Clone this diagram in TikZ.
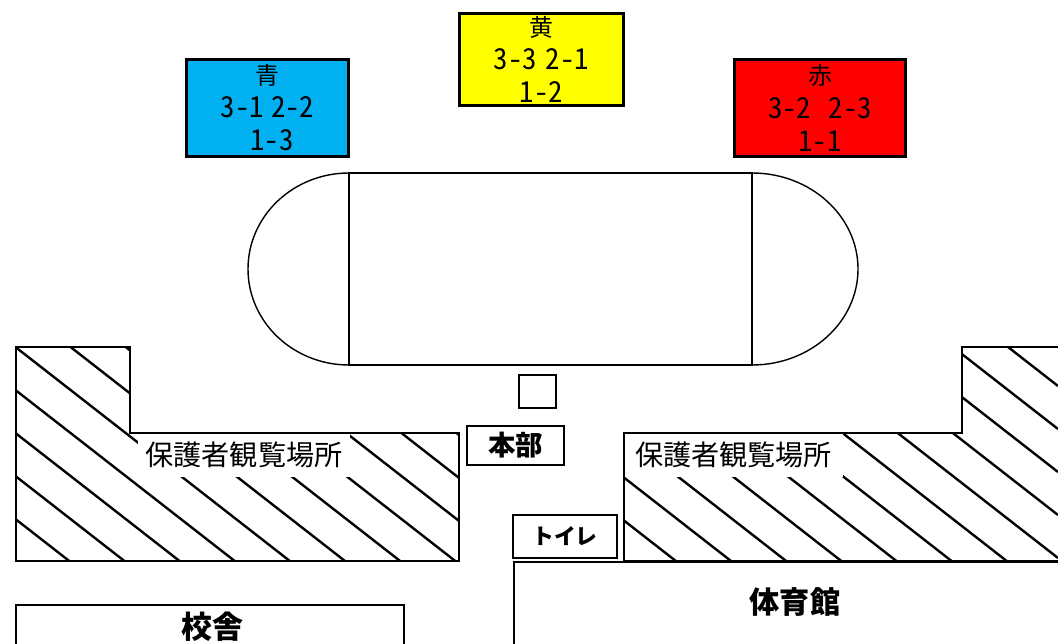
\documentclass[tikz,border=0pt]{standalone}
\usepackage{fontspec}
\newfontfamily\jp{Noto Sans CJK JP}
\newfontfamily\jphw{Noto Sans CJK JP}[RawFeature=+hwid]
\usepackage{tikz}

\definecolor{aoi}{HTML}{00B0F0}
\definecolor{ki}{HTML}{FFFF00}
\definecolor{aka}{HTML}{FF0000}
\newcommand\nums[1]{{\jphw\fontsize{20.5}{23.5}\selectfont #1}}

\begin{document}
\begin{tikzpicture}[x=0.025cm, y=-0.025cm, font=\jp,
  teambox/.style={draw, line width=2.1pt, minimum height=2.43cm, inner sep=0pt, align=center, font=\jp\fontsize{17}{23.5}\selectfont},
  hut/.style={draw, line width=1pt, inner sep=0pt},
  wall/.style={line width=2.1pt},
  hatch/.style={line width=1.7pt},
  spot/.style={fill=white, minimum height=1.125cm, inner sep=0pt, font=\jp\fontsize{20}{24}\selectfont}]
\useasboundingbox (0,0) rectangle (1058,644);
\clip (0,0) rectangle (1058,644);

% team seats
\node[teambox, fill=aoi, minimum width=4.05cm] (ao) at (267.5,108) {青\\\nums{3-1\hspace{0.25em}2-2}\\\nums{\hspace{0.3em}1-3}};
\node[teambox, fill=ki, minimum width=4.1cm, minimum height=2.3cm] (ki) at (541.5,59.5) {黄\\\nums{3-3\hspace{0.3em}2-1}\\\nums{1-2}};
\node[teambox, fill=aka, minimum width=4.275cm] (aka) at (820,108) {赤\\\nums{3-2\hspace{0.6em}2-3}\\\nums{1-1}};

% track
\draw[line width=1pt] (349,173) rectangle (752,365);
\draw[line width=1pt] (349,173) arc[start angle=270, end angle=90, x radius=101, y radius=96];
\draw[line width=1pt] (752,173) arc[start angle=-90, end angle=90, x radius=106, y radius=96];

% hatched areas
\begin{scope}
\clip (16,347) -- (130,347) -- (130,433) -- (459,433) -- (459,561) -- (16,561) -- cycle;
\foreach \k in {-6,...,19}
  \draw[hatch] (0,{335-43*\k}) -- ++(1058,825);
\end{scope}
\begin{scope}
\clip (1070,347) -- (962,347) -- (962,433) -- (624,433) -- (624,561) -- (1070,561) -- cycle;
\foreach \k in {-6,...,19}
  \draw[hatch] (0,{335-43*\k}) -- ++(1058,825);
\end{scope}
\node[spot, minimum width=5.3cm] (hogo1) at (244,454.5) {保護者観覧場所};
\node[spot, minimum width=5.475cm] (hogo2) at (733.5,454.5) {保護者観覧場所};
\draw[wall] (16,347) -- (130,347) -- (130,433) -- (459,433) -- (459,561) -- (16,561) -- cycle;
\draw[wall] (1070,347) -- (962,347) -- (962,433) -- (624,433) -- (624,561) -- (1070,561);

% small buildings
\node[hut, minimum width=0.925cm, minimum height=0.825cm] (box) at (537.5,391.5) {};
\node[hut, minimum width=2.425cm, minimum height=0.975cm, font=\jp\bfseries\fontsize{19.5}{22}\selectfont] (honbu) at (515.5,445.5) {本部};
\node[hut, minimum width=2.6cm, minimum height=1.075cm, font=\jp\bfseries\fontsize{15.5}{18}\selectfont] (toire) at (565,536.5) {トイレ};

% gym and school
\draw[wall] (514,670) -- (514,562) -- (1070,562);
\node[font=\jp\bfseries\fontsize{21.5}{24}\selectfont] (gym) at (795,602) {体育館};
\draw[wall] (16,670) -- (16,605) -- (404,605) -- (404,670);
\node[font=\jp\bfseries\fontsize{22}{24}\selectfont] (kosha) at (212,627) {校舎};
\end{tikzpicture}
\end{document}
